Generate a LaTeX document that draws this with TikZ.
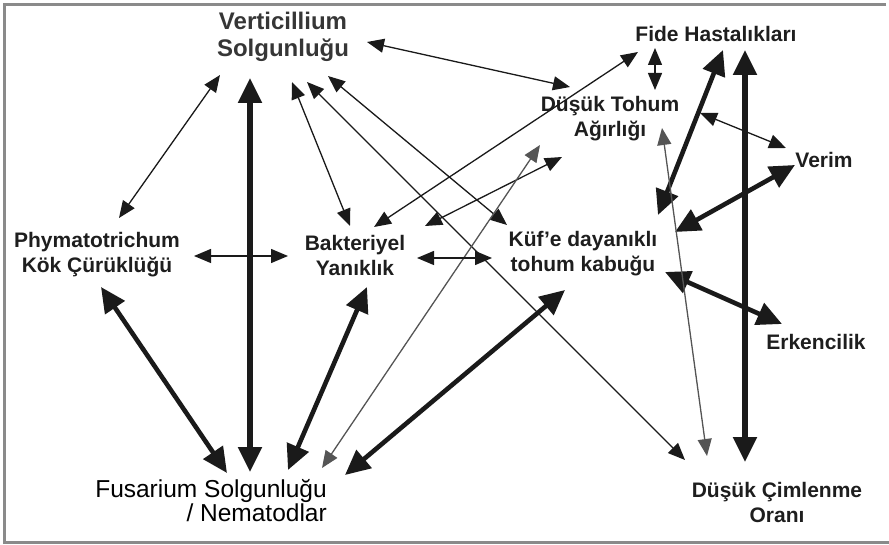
\documentclass[tikz,border=0pt]{standalone}
\usepackage{fontspec}
\setmainfont{Liberation Sans}
\usetikzlibrary{arrows.meta}
\definecolor{txt}{HTML}{1E1E1E}
\definecolor{vtxt}{HTML}{363636}
\definecolor{frm}{HTML}{8A8A8A}
\definecolor{ln}{HTML}{1A1A1A}
\definecolor{lngr}{HTML}{555555}
\begin{document}
\begin{tikzpicture}[x=1pt,y=-1pt,
  lbl/.style={inner sep=0pt, align=center, text=txt, font=\bfseries\fontsize{21}{25}\selectfont},
  lnthin/.style={line width=1.3pt, draw=ln, fill=ln, arrows={Triangle[length=17pt,width=14pt]-Triangle[length=17pt,width=14pt]}},
  lngray/.style={lnthin, draw=lngr, fill=lngr},
  lnthick/.style={line width=4.6pt, draw=ln, fill=ln, arrows={Triangle[length=25pt,width=23pt]-Triangle[length=25pt,width=23pt]}},
  lnvert/.style={lnthick, line width=5.5pt}
]
\useasboundingbox (0,0) rectangle (889,545);
\draw[frm, line width=2.5pt] (886,4.5) -- (4.5,4.5) -- (4.5,542.5) -- (889,542.5);

% nodes
\node[lbl, text=vtxt, font=\bfseries\fontsize{24}{27}\selectfont] (verti) at (283,37) {Verticillium\\Solgunluğu};
\node[lbl] (fide) at (716,34) {Fide Hastalıkları};
\node[lbl] (dtohum) at (610,119) {Düşük Tohum\\Ağırlığı};
\node[lbl] (verim) at (824,160) {Verim};
\node[lbl] (phyma) at (97,255) {Phymatotrichum\\Kök Çürüklüğü};
\node[lbl] (bakt) at (355,255) {Bakteriyel\\Yanıklık};
\node[lbl] (kuf) at (583,254) {Küf'e dayanıklı\\tohum kabuğu};
\node[lbl] (erk) at (816,342) {Erkencilik};
\node[lbl, align=right, anchor=east, text=black, font=\fontsize{24.5}{22}\selectfont] (fus) at (327,501) {Fusarium Solgunluğu\\/ Nematodlar};
\node[lbl] (dcim) at (777,502) {Düşük Çimlenme\\Oranı};

% connectors
\draw[lnthin] ([shift={(84,5)}]verti.center) -- ([shift={(-40,-32)}]dtohum.center);
\draw[lnthin] ([shift={(-63,38)}]verti.center) -- ([shift={(22,-37)}]phyma.center);
\draw[lnvert] ([shift={(-33,41)}]verti.center) -- ([shift={(-77,-29)}]fus.east);
\draw[lnthin] ([shift={(9,45)}]verti.center) -- ([shift={(-5,-29)}]bakt.center);
\draw[lnthin] ([shift={(45,39)}]verti.center) -- ([shift={(-76,-29)}]kuf.center);
\draw[lnthin] ([shift={(24,45)}]verti.center) -- ([shift={(-92,-42)}]dcim.center);
\draw[lnthin] ([shift={(97,1)}]phyma.center) -- ([shift={(-67,1)}]bakt.center);
\draw[lnthick] ([shift={(4,32)}]phyma.center) -- ([shift={(-100,-28)}]fus.east);
\draw[lnthick] ([shift={(12,32)}]bakt.center) -- ([shift={(-39,-31)}]fus.east);
\draw[lnthin] ([shift={(-78,18)}]fide.center) -- ([shift={(19,-28)}]bakt.center);
\draw[lnthin] ([shift={(-48,38)}]dtohum.center) -- ([shift={(70,-29)}]bakt.center);
\draw[lngray] ([shift={(-70,26)}]dtohum.center) -- ([shift={(-5,-33)}]fus.east);
\draw[lnthick] ([shift={(-18,36)}]kuf.center) -- ([shift={(18,-26)}]fus.east);
\draw[lnthin] ([shift={(-61,14)}]fide.center) -- ([shift={(45,-29)}]dtohum.center);
\draw[lnthick] ([shift={(7,16)}]fide.center) -- ([shift={(75,-39)}]kuf.center);
\draw[lnvert] ([shift={(29,16)}]fide.center) -- ([shift={(-32,-40)}]dcim.center);
\draw[lnthin] ([shift={(90,-6)}]dtohum.center) -- ([shift={(-38,-12)}]verim.center);
\draw[lnthick] ([shift={(92,-22)}]kuf.center) -- ([shift={(-29,5)}]verim.center);
\draw[lnthick] ([shift={(82,18)}]kuf.center) -- ([shift={(-34,-18)}]erk.center);
\draw[lngray] ([shift={(52,9)}]dtohum.center) -- ([shift={(-70,-46)}]dcim.center);
\draw[lnthin] ([shift={(62,3)}]bakt.center) -- ([shift={(-91,4)}]kuf.center);
\end{tikzpicture}
\end{document}
